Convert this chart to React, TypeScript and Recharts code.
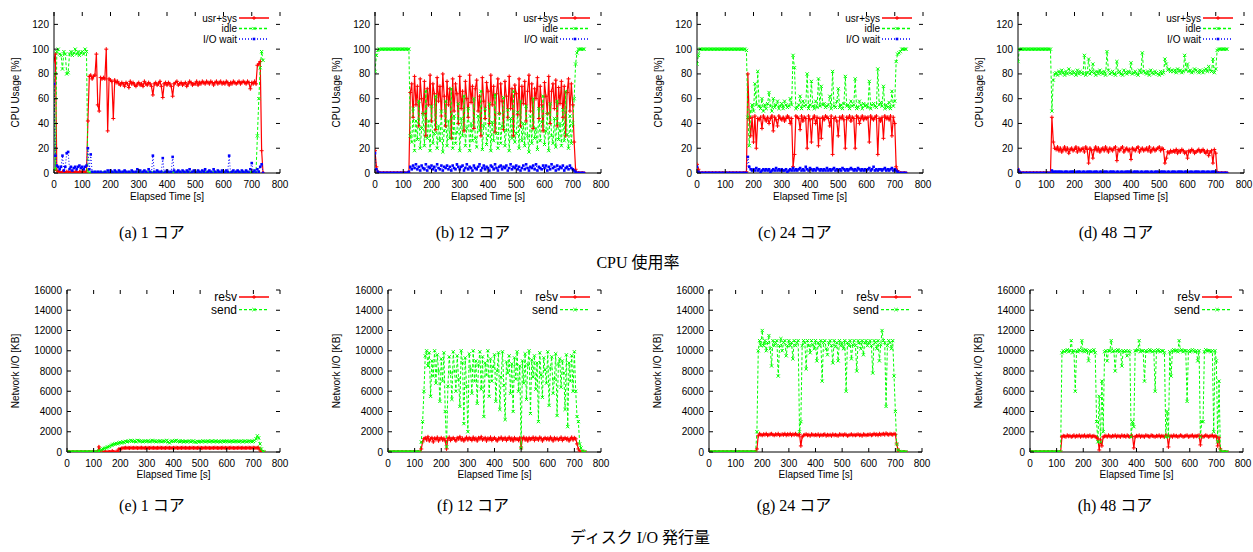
import React from 'react';
import { LineChart, Line, XAxis, YAxis } from 'recharts';

const TIME = [
  0, 5, 10, 15, 20, 25, 30, 35, 40, 45,
  50, 55, 60, 65, 70, 75, 80, 85, 90, 95,
  100, 105, 110, 115, 120, 125, 130, 135, 140, 145,
  150, 155, 160, 165, 170, 175, 180, 185, 190, 195,
  200, 205, 210, 215, 220, 225, 230, 235, 240, 245,
  250, 255, 260, 265, 270, 275, 280, 285, 290, 295,
  300, 305, 310, 315, 320, 325, 330, 335, 340, 345,
  350, 355, 360, 365, 370, 375, 380, 385, 390, 395,
  400, 405, 410, 415, 420, 425, 430, 435, 440, 445,
  450, 455, 460, 465, 470, 475, 480, 485, 490, 495,
  500, 505, 510, 515, 520, 525, 530, 535, 540, 545,
  550, 555, 560, 565, 570, 575, 580, 585, 590, 595,
  600, 605, 610, 615, 620, 625, 630, 635, 640, 645,
  650, 655, 660, 665, 670, 675, 680, 685, 690, 695,
  700, 705, 710, 715, 720, 725, 730, 735, 740,
];

const X_TICKS = [0, 100, 200, 300, 400, 500, 600, 700, 800];
const CPU_TICKS = [0, 20, 40, 60, 80, 100, 120];
const NET_TICKS = [0, 2000, 4000, 6000, 8000, 10000, 12000, 14000, 16000];

// (a) 1 core
const A_USR = [
  90, 96, 2, 1, 1, 0, 1, 1, 0, 1,
  1, 0, 1, 1, 0, 1, 1, 0, 1, 1,
  0, 1, 1, 0, 42, 78, 79, 76, 78, 79,
  96, 55, 50, 77, 76, 77, 76, 100, 34, 76,
  75, 74, 44, 75, 73, 74, 72, 71, 73, 72,
  70, 73, 72, 69, 74, 72, 73, 71, 70, 72,
  73, 71, 72, 70, 74, 72, 71, 73, 72, 70,
  63, 72, 73, 71, 72, 74, 70, 61, 72, 73,
  71, 73, 72, 70, 62, 72, 73, 74, 71, 72,
  73, 71, 72, 73, 70, 72, 74, 73, 71, 72,
  72, 74, 71, 73, 72, 74, 73, 72, 74, 73,
  72, 74, 73, 71, 73, 74, 72, 73, 74, 72,
  73, 72, 74, 73, 71, 73, 72, 74, 73, 72,
  73, 74, 72, 73, 74, 73, 72, 74, 73, 68,
  73, 72, 74, 72, 87, 88, 90, 18, 0,
];
const A_IDLE = [
  80, 3, 98, 100, 96, 95, 84, 98, 96, 80,
  81, 96, 98, 95, 97, 100, 96, 98, 95, 97,
  98, 96, 100, 98, 2, 0, 0, 0, 0, 0,
  0, 0, 0, 0, 0, 0, 0, 0, 0, 0,
  0, 0, 0, 0, 0, 0, 0, 0, 0, 0,
  0, 0, 0, 0, 0, 0, 0, 0, 0, 0,
  0, 0, 0, 0, 0, 0, 0, 0, 0, 0,
  0, 0, 0, 0, 0, 0, 0, 0, 0, 0,
  0, 0, 0, 0, 0, 0, 0, 0, 0, 0,
  0, 0, 0, 0, 0, 0, 0, 0, 0, 0,
  0, 0, 0, 0, 0, 0, 0, 0, 0, 0,
  0, 0, 0, 0, 0, 0, 0, 0, 0, 0,
  0, 0, 0, 0, 0, 0, 0, 0, 0, 0,
  0, 0, 0, 0, 0, 0, 0, 0, 0, 0,
  0, 0, 0, 0, 30, 60, 85, 98, 91,
];
const A_IO = [
  72, 14, 6, 5, 3, 5, 14, 2, 5, 16,
  17, 3, 5, 2, 4, 5, 3, 5, 6, 4,
  5, 3, 5, 6, 20, 3, 15, 1, 0, 1,
  0, 1, 0, 1, 0, 0, 1, 0, 2, 0,
  2, 1, 0, 2, 1, 0, 2, 1, 0, 1,
  2, 1, 0, 1, 0, 2, 1, 0, 1, 3,
  1, 2, 0, 1, 2, 1, 0, 3, 1, 0,
  14, 1, 0, 2, 1, 0, 1, 12, 0, 1,
  2, 1, 0, 1, 13, 2, 0, 1, 2, 1,
  0, 2, 1, 0, 2, 1, 3, 0, 1, 2,
  1, 0, 2, 1, 0, 2, 1, 3, 0, 1,
  2, 1, 0, 3, 1, 0, 2, 1, 0, 2,
  1, 0, 2, 1, 14, 0, 1, 2, 0, 1,
  2, 1, 0, 2, 1, 0, 2, 1, 0, 3,
  8, 1, 2, 0, 3, 1, 5, 7, 0,
];

// (b) 12 cores
const B_USR = [
  18, 5, 1, 0, 0, 0, 0, 0, 0, 0,
  0, 0, 0, 0, 0, 0, 0, 0, 0, 0,
  0, 0, 0, 0, 0, 65, 72, 45, 78, 55,
  70, 38, 76, 60, 48, 74, 30, 68, 55, 79,
  42, 72, 64, 35, 77, 58, 70, 46, 80, 62,
  38, 74, 55, 68, 28, 76, 50, 72, 64, 40,
  78, 52, 66, 34, 74, 60, 45, 79, 57, 70,
  36, 68, 75, 50, 62, 30, 77, 58, 44, 73,
  66, 40, 79, 55, 70, 33, 64, 76, 48, 72,
  58, 35, 74, 62, 45, 78, 52, 68, 30, 71,
  64, 47, 76, 38, 70, 56, 74, 42, 66, 79,
  50, 72, 36, 68, 60, 77, 44, 70, 55, 34,
  73, 62, 48, 78, 40, 66, 72, 52, 75, 38,
  69, 56, 74, 45, 70, 30, 65, 76, 50, 72,
  55, 25, 3, 0, 0, 0, 0, 0, 0,
];
const B_IDLE = [
  82, 95, 99, 100, 100, 100, 100, 100, 100, 100,
  100, 100, 100, 100, 100, 100, 100, 100, 100, 100,
  100, 100, 100, 100, 100, 30, 25, 52, 18, 42,
  27, 58, 20, 36, 48, 22, 66, 28, 42, 18,
  54, 24, 32, 62, 20, 38, 26, 50, 17, 34,
  58, 22, 42, 28, 68, 20, 46, 24, 33, 56,
  18, 44, 30, 62, 22, 36, 52, 18, 40, 26,
  60, 28, 21, 46, 34, 66, 19, 38, 52, 23,
  30, 56, 18, 41, 26, 63, 32, 20, 48, 24,
  38, 61, 22, 34, 51, 18, 44, 28, 66, 25,
  32, 49, 20, 58, 26, 40, 22, 54, 30, 17,
  46, 24, 60, 28, 36, 19, 52, 26, 41, 62,
  23, 34, 48, 18, 56, 30, 24, 44, 21, 58,
  27, 40, 22, 51, 26, 66, 31, 20, 46, 24,
  40, 60, 88, 97, 100, 100, 100, 100, 100,
];
const B_IO = [
  16, 3, 1, 0, 0, 0, 0, 0, 0, 0,
  0, 0, 0, 0, 0, 0, 0, 0, 0, 0,
  0, 0, 0, 0, 1, 5, 3, 6, 4, 7,
  3, 5, 2, 6, 4, 3, 7, 2, 5, 4,
  6, 3, 5, 2, 7, 4, 3, 6, 2, 5,
  4, 6, 3, 5, 2, 6, 4, 3, 7, 5,
  3, 5, 6, 2, 4, 7, 3, 5, 4, 2,
  6, 4, 3, 5, 7, 2, 4, 6, 3, 5,
  4, 2, 6, 5, 3, 7, 4, 2, 5, 6,
  3, 5, 4, 6, 2, 4, 7, 3, 5, 4,
  6, 3, 5, 2, 4, 6, 3, 7, 4, 2,
  5, 4, 6, 3, 7, 2, 5, 4, 3, 6,
  4, 6, 2, 5, 3, 7, 4, 5, 2, 6,
  3, 5, 4, 6, 2, 4, 5, 3, 6, 4,
  3, 2, 1, 0, 0, 0, 0, 0, 0,
];

// (c) 24 cores
const C_USR = [
  7, 3, 0, 0, 0, 0, 0, 0, 0, 0,
  0, 0, 0, 0, 0, 0, 0, 0, 0, 0,
  0, 0, 0, 0, 0, 0, 0, 0, 0, 0,
  0, 0, 0, 0, 0, 1, 80, 44, 30, 45,
  25, 46, 20, 44, 43, 45, 36, 46, 44, 42,
  45, 40, 44, 46, 34, 45, 43, 38, 46, 44,
  43, 45, 42, 44, 46, 45, 40, 44, 5, 15,
  46, 45, 44, 35, 46, 42, 45, 44, 20, 46,
  43, 25, 44, 46, 40, 45, 22, 44, 28, 45,
  43, 46, 45, 44, 38, 46, 15, 44, 45, 42,
  30, 45, 44, 46, 43, 20, 45, 44, 46, 42,
  45, 44, 20, 46, 45, 40, 44, 46, 43, 45,
  44, 45, 25, 46, 44, 43, 45, 46, 15, 44,
  42, 45, 28, 46, 44, 45, 43, 46, 30, 45,
  40, 5, 2, 0, 0, 0, 0, 0, 0,
];
const C_IDLE = [
  88, 95, 100, 100, 100, 100, 100, 100, 100, 100,
  100, 100, 100, 100, 100, 100, 100, 100, 100, 100,
  100, 100, 100, 100, 100, 100, 100, 100, 100, 100,
  100, 100, 100, 100, 100, 99, 45, 22, 50, 55,
  50, 72, 55, 82, 54, 52, 60, 50, 55, 52,
  56, 65, 54, 50, 60, 53, 55, 58, 52, 54,
  56, 52, 58, 55, 53, 54, 60, 55, 95, 85,
  52, 53, 55, 62, 52, 58, 54, 55, 80, 52,
  55, 74, 54, 52, 58, 53, 76, 54, 70, 55,
  56, 53, 54, 55, 62, 52, 82, 54, 53, 58,
  68, 53, 55, 52, 56, 78, 54, 55, 52, 58,
  54, 55, 76, 52, 53, 58, 55, 52, 56, 54,
  55, 53, 74, 52, 55, 56, 54, 53, 84, 55,
  57, 54, 70, 52, 55, 53, 57, 52, 66, 54,
  58, 90, 96, 97, 98, 100, 100, 100, 100,
];
const C_IO = [
  5, 1, 0, 0, 0, 0, 0, 0, 0, 0,
  0, 0, 0, 0, 0, 0, 0, 0, 0, 0,
  0, 0, 0, 0, 0, 0, 0, 0, 0, 0,
  0, 0, 0, 0, 0, 0, 13, 5, 3, 2,
  3, 2, 4, 2, 3, 1, 2, 3, 2, 3,
  2, 3, 1, 2, 3, 2, 4, 2, 3, 2,
  3, 2, 2, 3, 1, 2, 3, 2, 4, 2,
  3, 2, 3, 4, 2, 3, 2, 5, 3, 2,
  4, 3, 2, 3, 2, 4, 3, 2, 3, 2,
  3, 2, 4, 2, 3, 2, 3, 4, 2, 3,
  2, 3, 2, 4, 3, 2, 3, 2, 3, 4,
  3, 2, 3, 2, 4, 3, 2, 3, 2, 3,
  2, 3, 4, 2, 3, 5, 2, 3, 2, 3,
  3, 2, 3, 4, 2, 3, 2, 3, 4, 2,
  3, 2, 1, 0, 0, 0, 0, 0, 0,
];

// (d) 48 cores
const D_USR = [
  3, 1, 0, 0, 0, 0, 0, 0, 0, 0,
  0, 0, 0, 0, 0, 0, 0, 0, 0, 0,
  0, 0, 0, 0, 45, 25, 20, 19, 21, 18,
  20, 17, 19, 21, 18, 20, 16, 19, 20, 18,
  19, 21, 17, 20, 18, 19, 20, 17, 21, 19,
  8, 20, 18, 12, 19, 21, 18, 20, 17, 19,
  20, 18, 21, 19, 17, 20, 19, 18, 20, 21,
  10, 19, 18, 20, 21, 17, 19, 20, 18, 19,
  11, 20, 19, 18, 20, 21, 17, 19, 20, 18,
  19, 20, 18, 21, 17, 19, 20, 18, 19, 20,
  21, 18, 20, 19, 8, 12, 17, 16, 18, 17,
  18, 17, 19, 16, 18, 17, 19, 18, 16, 17,
  12, 18, 17, 19, 18, 16, 17, 18, 19, 17,
  18, 19, 17, 16, 18, 14, 17, 18, 8, 19,
  16, 0, 0, 0, 0, 0, 0, 0, 0,
];
const D_IDLE = [
  90, 100, 100, 100, 100, 100, 100, 100, 100, 100,
  100, 100, 100, 100, 100, 100, 100, 100, 100, 100,
  100, 100, 100, 100, 50, 75, 80, 81, 79, 82,
  80, 83, 81, 79, 82, 80, 84, 81, 80, 82,
  81, 79, 83, 80, 82, 81, 80, 95, 79, 81,
  92, 80, 82, 88, 81, 79, 82, 80, 83, 81,
  80, 82, 79, 98, 83, 80, 81, 82, 80, 79,
  90, 81, 82, 80, 79, 83, 81, 80, 82, 81,
  89, 80, 81, 82, 80, 79, 83, 81, 97, 82,
  81, 80, 82, 79, 83, 81, 80, 82, 81, 80,
  79, 82, 80, 81, 92, 88, 83, 84, 82, 83,
  82, 83, 81, 84, 82, 83, 81, 82, 95, 83,
  88, 82, 83, 81, 82, 84, 83, 82, 81, 83,
  82, 81, 83, 84, 82, 86, 83, 82, 92, 81,
  84, 99, 100, 100, 100, 100, 100, 100, 100,
];
const D_IO = [
  3, 1, 0, 0, 0, 0, 0, 0, 0, 0,
  0, 0, 0, 0, 0, 0, 0, 0, 0, 0,
  0, 0, 0, 0, 2, 1, 1, 1, 1, 1,
  1, 1, 0, 1, 1, 1, 0, 1, 1, 1,
  1, 0, 1, 1, 1, 0, 1, 1, 0, 1,
  1, 1, 1, 0, 1, 1, 1, 0, 1, 1,
  0, 1, 1, 1, 0, 1, 1, 1, 1, 0,
  1, 1, 0, 1, 1, 0, 1, 1, 1, 1,
  1, 0, 1, 1, 1, 1, 0, 1, 1, 0,
  1, 1, 1, 0, 1, 1, 0, 1, 1, 1,
  0, 1, 1, 1, 1, 0, 1, 1, 0, 1,
  1, 1, 0, 1, 1, 1, 1, 0, 1, 1,
  1, 0, 1, 1, 0, 1, 1, 1, 1, 0,
  1, 1, 1, 0, 1, 1, 0, 1, 1, 1,
  1, 0, 0, 0, 0, 0, 0, 0, 0,
];

// (e) 1 core network
const E_RESV = [
  0, 0, 0, 0, 0, 0, 0, 0, 0, 0,
  0, 0, 0, 0, 0, 0, 0, 0, 0, 0,
  0, 0, 0, 0, 500, 0, 0, 0, 0, 0,
  0, 0, 0, 0, 100, 0, 0, 50, 50, 300,
  300, 350, 380, 400, 420, 400, 410, 390, 420, 400,
  410, 400, 420, 390, 400, 410, 420, 400, 390, 410,
  400, 410, 390, 420, 400, 410, 400, 390, 410, 400,
  420, 400, 410, 390, 400, 420, 400, 410, 400, 390,
  410, 400, 420, 400, 390, 410, 400, 420, 400, 410,
  400, 390, 410, 400, 420, 400, 410, 390, 400, 420,
  410, 400, 390, 410, 420, 400, 410, 400, 390, 410,
  400, 420, 410, 400, 390, 410, 400, 420, 400, 410,
  390, 410, 400, 420, 410, 400, 390, 410, 400, 420,
  410, 400, 420, 390, 410, 400, 420, 410, 400, 410,
  420, 410, 400, 410, 420, 200, 50, 0, 0,
];
const E_SEND = [
  0, 0, 0, 0, 0, 0, 0, 0, 0, 0,
  0, 0, 0, 0, 0, 0, 0, 0, 0, 0,
  0, 0, 0, 0, 100, 150, 250, 300, 350, 400,
  450, 500, 550, 650, 700, 750, 800, 850, 800, 900,
  950, 900, 1000, 950, 1050, 1000, 1100, 1050, 1150, 1100,
  1050, 1100, 1000, 1150, 1100, 1050, 1100, 1000, 1050, 1100,
  1050, 1100, 1000, 1050, 1150, 1100, 1050, 1000, 1100, 1050,
  1100, 1000, 1050, 1100, 1050, 1150, 1000, 900, 1050, 1100,
  1050, 1100, 1150, 1050, 1100, 1000, 1050, 1100, 1000, 1050,
  1000, 1050, 1100, 1000, 1050, 1100, 1000, 950, 1050, 1000,
  1050, 1000, 1100, 1050, 1000, 1050, 1100, 1000, 1050, 1100,
  1000, 1050, 1100, 1000, 1050, 1000, 1100, 1050, 1000, 1050,
  1100, 1050, 1000, 1050, 1100, 1000, 1050, 1100, 1050, 1000,
  1050, 1100, 1000, 1050, 1100, 1000, 1050, 1100, 1050, 1000,
  1050, 1150, 1300, 1600, 1400, 800, 300, 50, 0,
];

// (f) 12 cores network
const F_RESV = [
  0, 0, 0, 0, 0, 0, 0, 0, 0, 0,
  0, 0, 0, 0, 0, 0, 0, 0, 0, 0,
  0, 0, 0, 0, 0, 300, 1000, 1300, 1400, 1200,
  1500, 1100, 1300, 1400, 1000, 1350, 1250, 1450, 1100, 1300,
  1400, 1200, 1350, 1100, 300, 1300, 1450, 1150, 1300, 1400,
  1250, 1100, 1400, 1300, 1500, 1200, 1350, 1100, 1300, 1450,
  1200, 1400, 1300, 1150, 1450, 1250, 1350, 1100, 1400, 1300,
  1500, 1200, 1300, 1400, 1100, 1350, 1250, 1450, 1150, 1300,
  1400, 1250, 1100, 1350, 1300, 1450, 1200, 1300, 1400, 1150,
  1300, 1450, 1200, 1350, 1100, 1400, 1250, 1300, 1150, 1400,
  400, 1300, 1450, 1200, 1350, 1100, 1400, 1250, 1300, 1450,
  1150, 1400, 1300, 1200, 1450, 1350, 1100, 1300, 1400, 1250,
  1350, 1200, 1450, 1300, 1100, 1400, 1250, 1350, 1200, 1300,
  1450, 1150, 1300, 1400, 1250, 1350, 1100, 1300, 1450, 1200,
  1400, 1300, 800, 300, 100, 0, 0, 0, 0,
];
const F_SEND = [
  0, 0, 0, 0, 0, 0, 0, 0, 0, 0,
  0, 0, 0, 0, 0, 0, 0, 0, 0, 0,
  0, 0, 0, 0, 0, 1000, 3000, 6000, 9500, 10000,
  8500, 9800, 5500, 9000, 7500, 10000, 6800, 9600, 8000, 5000,
  9200, 7000, 9800, 4000, 500, 6500, 9400, 7800, 5200, 9900,
  8000, 6000, 9500, 7200, 4500, 10000, 8800, 2800, 9300, 6500,
  2000, 9700, 8200, 5800, 10000, 7000, 9000, 4800, 8600, 9900,
  6200, 9400, 3500, 8800, 7600, 10000, 5500, 9200, 7000, 8400,
  9600, 5000, 8000, 9800, 4200, 7400, 9900, 6600, 3200, 8900,
  7800, 9500, 5800, 8700, 4000, 9300, 7200, 9900, 6000, 8500,
  400, 9000, 6800, 9700, 5200, 8600, 10000, 3800, 9100, 7400,
  9500, 6200, 8800, 3000, 9800, 7600, 5400, 9300, 8100, 6800,
  9900, 4600, 8300, 9400, 5800, 7200, 9700, 3600, 8700, 9200,
  6400, 9000, 7800, 4200, 9600, 2500, 8800, 7000, 9500, 6000,
  9900, 6000, 3500, 3000, 800, 400, 100, 0, 0,
];

// (g) 24 cores network
const G_RESV = [
  0, 0, 0, 0, 0, 0, 0, 0, 0, 0,
  0, 0, 0, 0, 0, 0, 0, 0, 0, 0,
  0, 0, 0, 0, 0, 0, 0, 0, 0, 0,
  0, 0, 0, 0, 0, 0, 300, 1600, 1800, 1700,
  1650, 1750, 1700, 1800, 1650, 1700, 1750, 1800, 1700, 1650,
  1750, 1700, 1800, 1650, 1700, 1750, 1700, 1800, 1650, 1750,
  1700, 1800, 1650, 1750, 1700, 1800, 1700, 1650, 1750, 600,
  1500, 1650, 1700, 1750, 1650, 1700, 1600, 1750, 1700, 1650,
  1700, 1650, 1750, 1600, 1700, 1650, 1700, 1750, 1600, 1700,
  1650, 1700, 1600, 1750, 1650, 1700, 1650, 1600, 1750, 1700,
  1700, 1650, 1750, 1700, 1600, 1650, 1700, 1750, 1650, 1700,
  1650, 1700, 1750, 1650, 1700, 1600, 1750, 1700, 1650, 1700,
  1700, 1750, 1650, 1700, 1800, 1700, 1750, 1650, 1800, 1700,
  1750, 1800, 1700, 1850, 1750, 1700, 1800, 1750, 1700, 1800,
  1750, 800, 200, 50, 0, 0, 0, 0, 0,
];
const G_SEND = [
  0, 0, 0, 0, 0, 0, 0, 0, 0, 0,
  0, 0, 0, 0, 0, 0, 0, 0, 0, 0,
  0, 0, 0, 0, 0, 0, 0, 0, 0, 0,
  0, 0, 0, 0, 0, 0, 2000, 10000, 11000, 10500,
  12000, 10500, 11000, 10000, 10800, 11500, 10200, 8500, 11000, 10500,
  10800, 11000, 7500, 10500, 11200, 10000, 10800, 11000, 9500, 10500,
  11000, 10500, 10800, 9200, 11000, 10500, 10800, 11000, 2000, 3000,
  10500, 11000, 10800, 8200, 11000, 10500, 9800, 11000, 10600, 10200,
  11000, 9000, 10800, 10500, 11000, 7000, 10800, 11000, 10200, 9600,
  10800, 11000, 10500, 8800, 11000, 10400, 10800, 9000, 11000, 10500,
  10800, 10200, 11000, 6000, 10800, 10500, 11000, 9200, 10600, 11000,
  10500, 8000, 11000, 10800, 10200, 11000, 9600, 10800, 11000, 10500,
  10800, 11000, 10500, 7800, 11000, 10800, 10200, 11000, 9000, 10600,
  12000, 11000, 10800, 4500, 10500, 11000, 10800, 10200, 11000, 7500,
  4000, 800, 200, 50, 0, 0, 0, 0, 0,
];

// (h) 48 cores network
const H_RESV = [
  0, 0, 0, 0, 0, 0, 0, 0, 0, 0,
  0, 0, 0, 0, 0, 0, 0, 0, 0, 0,
  0, 0, 0, 0, 1500, 1600, 1550, 1500, 1650, 1550,
  1600, 1500, 1550, 1650, 1500, 1600, 1550, 1650, 1500, 1600,
  1550, 1650, 1500, 1600, 1550, 1650, 1500, 1550, 1600, 1500,
  1450, 1300, 200, 1200, 600, 1500, 1550, 1600, 1500, 1650,
  1550, 1500, 1600, 1550, 1650, 1500, 1600, 1550, 1500, 1650,
  1550, 1600, 1500, 1650, 1550, 1500, 1600, 1550, 400, 1500,
  1600, 1550, 1650, 1500, 1600, 1550, 1500, 1650, 1600, 1550,
  1500, 1650, 1600, 1550, 1500, 1600, 1550, 1650, 1500, 1600,
  1550, 1500, 1650, 1600, 500, 1550, 1600, 1500, 1650, 1550,
  1600, 1500, 1550, 1650, 1600, 1500, 1550, 1600, 1650, 1500,
  1550, 1600, 1650, 1500, 1600, 1550, 1600, 1650, 700, 1600,
  1500, 1550, 1650, 1600, 1500, 1550, 1600, 1650, 1500, 1600,
  1500, 600, 1400, 300, 0, 0, 0, 0, 0,
];
const H_SEND = [
  0, 0, 0, 0, 0, 0, 0, 0, 0, 0,
  0, 0, 0, 0, 0, 0, 0, 0, 0, 0,
  0, 0, 0, 0, 9800, 10000, 9900, 10000, 10100, 9900,
  10000, 11000, 9800, 10000, 6000, 10000, 9900, 10100, 10000, 11000,
  10000, 9900, 10100, 10000, 9000, 10000, 9900, 10000, 10100, 9800,
  3000, 1000, 5500, 1000, 7000, 2000, 9900, 10000, 9000, 10000,
  10000, 11000, 9900, 10000, 8000, 10000, 10100, 9900, 10000, 8500,
  10000, 9900, 10000, 9500, 10000, 9900, 1500, 3000, 2500, 10000,
  10000, 10100, 11000, 9900, 10000, 10000, 7000, 10000, 9900, 10000,
  10100, 10000, 9900, 10000, 6000, 10000, 10100, 10000, 9900, 10000,
  10000, 9800, 1500, 4000, 1500, 9900, 7500, 10000, 10100, 10000,
  10000, 9900, 11000, 10000, 10100, 9900, 10000, 10000, 5000, 10000,
  9900, 10000, 10100, 10000, 9900, 10000, 9000, 10000, 1500, 3000,
  3000, 9900, 10100, 10000, 10000, 10000, 9900, 10000, 2000, 10000,
  9000, 1000, 7000, 200, 0, 0, 0, 0, 0,
];

const RED = '#ff0000';
const GREEN = '#00ff00';
const BLUE = '#0000ff';
const SANS = '"Liberation Sans", Arial, Helvetica, sans-serif';
const SERIF = '"Liberation Serif", "DejaVu Serif", "Noto Sans CJK JP", serif';

type Marker = 'plus' | 'cross' | 'square';
type Series = { key: string; name: string; values: number[]; color: string; dash?: string; marker: Marker; width: number };

const cpuSeries = (usr: number[], idle: number[], io: number[]): Series[] => [
  { key: 'usr', name: 'usr+sys', values: usr, color: RED, marker: 'plus', width: 1.2 },
  { key: 'idle', name: 'idle', values: idle, color: GREEN, dash: '3 2', marker: 'cross', width: 1 },
  { key: 'io', name: 'I/O wait', values: io, color: BLUE, dash: '1 2', marker: 'square', width: 1 },
];
const netSeries = (resv: number[], send: number[]): Series[] => [
  { key: 'resv', name: 'resv', values: resv, color: RED, marker: 'plus', width: 1.2 },
  { key: 'send', name: 'send', values: send, color: GREEN, dash: '3 2', marker: 'cross', width: 1 },
];

function markerShape(m: Marker, color: string, cx: number, cy: number, key?: string) {
  if (m === 'plus') return <path key={key} d={`M${cx - 2},${cy}h4M${cx},${cy - 2}v4`} stroke={color} strokeWidth={1} fill="none" />;
  if (m === 'cross') return <path key={key} d={`M${cx - 1.6},${cy - 1.6}l3.2,3.2M${cx - 1.6},${cy + 1.6}l3.2,-3.2`} stroke={color} strokeWidth={1} fill="none" />;
  return <rect key={key} x={cx - 1.3} y={cy - 1.3} width={2.6} height={2.6} fill={color} />;
}

const makeDot = (s: Series) => (p: any) => {
  const { cx, cy, index } = p;
  if (cx == null || cy == null) return <g key={`n${index}`} />;
  return markerShape(s.marker, s.color, cx, cy, `${s.key}${index}`);
};

type PanelProps = {
  plotLeft: number; plotTop: number; plotW: number; plotH: number;
  yMax: number; yTicks: number[]; series: Series[];
};

function Panel({ plotLeft, plotTop, plotW, plotH, yMax, yTicks, series }: PanelProps) {
  const YW = 54, MT = 12, XH = 40, MR = 10;
  const width = YW + plotW + MR;
  const height = MT + plotH + XH;
  const PL = YW, PR = YW + plotW, PT = MT, PB = MT + plotH;
  const data = TIME.map((t, i) => {
    const row: any = { t };
    series.forEach((s) => { row[s.key] = s.values[i]; });
    return row;
  });
  const xTick = (p: any) => {
    const x = p.x;
    return (
      <g>
        <line x1={x} x2={x} y1={PB} y2={PB - 4} stroke="#000" />
        <line x1={x} x2={x} y1={PT} y2={PT + 4} stroke="#000" />
        <text x={x} y={PB + 14.5} textAnchor="middle" fontSize={10} fontFamily={SANS} fill="#000">{p.payload.value}</text>
      </g>
    );
  };
  const yTick = (p: any) => {
    const y = p.y;
    return (
      <g>
        <line x1={PL} x2={PL + 4} y1={y} y2={y} stroke="#000" />
        <line x1={PR - 4} x2={PR} y1={y} y2={y} stroke="#000" />
        <text x={PL - 5} y={y + 3.5} textAnchor="end" fontSize={10} fontFamily={SANS} fill="#000">{p.payload.value}</text>
      </g>
    );
  };
  return (
    <div style={{ position: 'absolute', left: plotLeft - YW, top: plotTop - MT, width, height }}>
      <LineChart width={width} height={height} data={data} margin={{ top: MT, right: MR, bottom: 0, left: 0 }}>
        <XAxis dataKey="t" type="number" domain={[0, 800]} ticks={X_TICKS} interval={0} tick={xTick} tickLine={false} axisLine={{ stroke: '#000' }} height={XH} allowDataOverflow />
        <XAxis xAxisId="top" orientation="top" type="number" domain={[0, 800]} tick={false} tickLine={false} height={0} axisLine={{ stroke: '#000' }} />
        <YAxis type="number" domain={[0, yMax]} ticks={yTicks} interval={0} tick={yTick} tickLine={false} width={YW} axisLine={{ stroke: '#000' }} allowDataOverflow />
        <YAxis yAxisId="right" orientation="right" type="number" domain={[0, yMax]} tick={false} tickLine={false} width={0} axisLine={{ stroke: '#000' }} />
        {series.map((s) => (
          <Line key={s.key} type="linear" dataKey={s.key} stroke={s.color} strokeWidth={s.width} strokeDasharray={s.dash} dot={makeDot(s)} activeDot={false} isAnimationActive={false} />
        ))}
      </LineChart>
    </div>
  );
}

const TOP_LEFTS = [54, 375, 697, 1018];
const BOTTOM_LEFTS = [67, 388, 709, 1030];
const TOP_SERIES = [
  cpuSeries(A_USR, A_IDLE, A_IO),
  cpuSeries(B_USR, B_IDLE, B_IO),
  cpuSeries(C_USR, C_IDLE, C_IO),
  cpuSeries(D_USR, D_IDLE, D_IO),
];
const BOTTOM_SERIES = [
  netSeries(E_RESV, E_SEND),
  netSeries(F_RESV, F_SEND),
  netSeries(G_RESV, G_SEND),
  netSeries(H_RESV, H_SEND),
];
const TOP_CAPTIONS = ['(a) 1 コア', '(b) 12 コア', '(c) 24 コア', '(d) 48 コア'];
const BOTTOM_CAPTIONS = ['(e) 1 コア', '(f) 12 コア', '(g) 24 コア', '(h) 48 コア'];

const TOP = { plotTop: 12, plotW: 226, plotH: 161 };
const BOT = { plotTop: 290, plotW: 213, plotH: 162 };

function Legend({ series, right, top, fontSize, rowGap }: { series: Series[]; right: number; top: number; fontSize: number; rowGap: number }) {
  return (
    <g>
      {series.map((s, i) => {
        const cy = top + i * rowGap;
        const x1 = right - 41, x2 = right - 11;
        return (
          <g key={s.key}>
            <text x={right - 43} y={cy + fontSize * 0.35} textAnchor="end" fontSize={fontSize} fontFamily={SANS} fill="#000">{s.name}</text>
            <line x1={x1} x2={x2} y1={cy} y2={cy} stroke={s.color} strokeWidth={s.width + 0.3} strokeDasharray={s.dash} />
            {markerShape(s.marker, s.color, (x1 + x2) / 2, cy)}
          </g>
        );
      })}
    </g>
  );
}

export default function App() {
  return (
    <div style={{ position: 'relative', width: 1253, height: 552, background: '#fff', overflow: 'hidden' }}>
      <style>{'body{margin:0;background:#fff;}'}</style>
      {TOP_LEFTS.map((l, i) => (
        <Panel key={`t${i}`} plotLeft={l} plotTop={TOP.plotTop} plotW={TOP.plotW} plotH={TOP.plotH} yMax={130} yTicks={CPU_TICKS} series={TOP_SERIES[i]} />
      ))}
      {BOTTOM_LEFTS.map((l, i) => (
        <Panel key={`b${i}`} plotLeft={l} plotTop={BOT.plotTop} plotW={BOT.plotW} plotH={BOT.plotH} yMax={16000} yTicks={NET_TICKS} series={BOTTOM_SERIES[i]} />
      ))}
      <svg width={1253} height={552} style={{ position: 'absolute', left: 0, top: 0, pointerEvents: 'none' }}>
        {TOP_LEFTS.map((l, i) => {
          const right = l + TOP.plotW;
          const cyMid = TOP.plotTop + TOP.plotH / 2;
          return (
            <g key={`tl${i}`}>
              <text x={l - 39} y={cyMid} transform={`rotate(-90 ${l - 39} ${cyMid})`} textAnchor="middle" dominantBaseline="central" fontSize={10} fontFamily={SANS}>CPU Usage [%]</text>
              <text x={l + TOP.plotW / 2} y={199.5} textAnchor="middle" fontSize={10} fontFamily={SANS}>Elapsed Time [s]</text>
              <Legend series={TOP_SERIES[i]} right={right} top={TOP.plotTop + 6} fontSize={10} rowGap={10.5} />
              <text x={l + 98} y={237.5} textAnchor="middle" fontSize={16} fontFamily={SERIF}>{TOP_CAPTIONS[i]}</text>
            </g>
          );
        })}
        {BOTTOM_LEFTS.map((l, i) => {
          const right = l + BOT.plotW;
          const cyMid = BOT.plotTop + BOT.plotH / 2;
          return (
            <g key={`bl${i}`}>
              <text x={l - 52} y={cyMid} transform={`rotate(-90 ${l - 52} ${cyMid})`} textAnchor="middle" dominantBaseline="central" fontSize={10} fontFamily={SANS}>Network I/O [KB]</text>
              <text x={l + BOT.plotW / 2} y={477.5} textAnchor="middle" fontSize={10} fontFamily={SANS}>Elapsed Time [s]</text>
              <Legend series={BOTTOM_SERIES[i]} right={right} top={BOT.plotTop + 7} fontSize={12} rowGap={12.6} />
              <text x={l + 85} y={510.5} textAnchor="middle" fontSize={16} fontFamily={SERIF}>{BOTTOM_CAPTIONS[i]}</text>
            </g>
          );
        })}
        <text x={638} y={267.5} textAnchor="middle" fontSize={16} fontFamily={SERIF}>CPU 使用率</text>
        <text x={640} y={542.5} textAnchor="middle" fontSize={16} fontFamily={SERIF}>ディスク I/O 発行量</text>
      </svg>
    </div>
  );
}
